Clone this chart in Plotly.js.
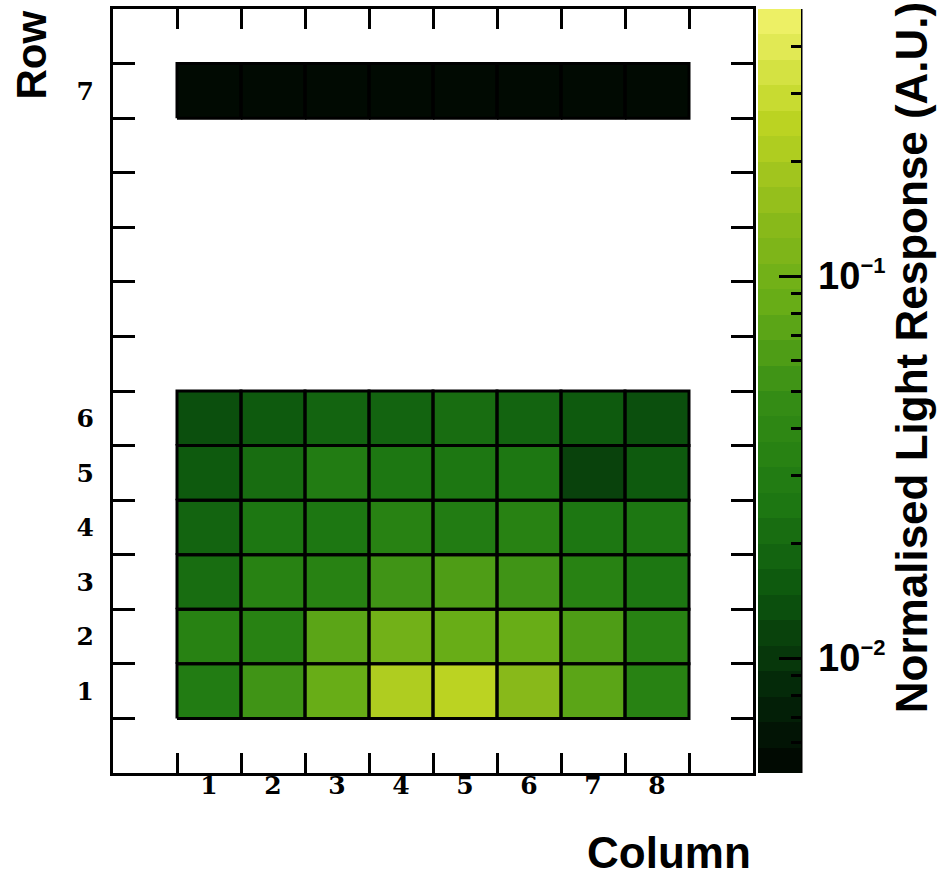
<!DOCTYPE html>
<html><head><meta charset="utf-8">
<script src="https://cdn.plot.ly/plotly-3.0.1.min.js"></script>
<style>html,body{margin:0;padding:0;background:#fff}#chart{width:947px;height:872px}</style>
</head><body><div id="chart"></div>
<script>
// ---- data ----
const columnLabels = ['1','2','3','4','5','6','7','8'];
const columnBins   = [1,2,3,4,5,6,7,8];          // lower edge of each x bin
const rowLabels    = ['1','2','3','4','5','6','7'];
const rowBins      = [1,2,3,4,5,6,12];           // lower edge of each y bin
const row1 = [0.0290, 0.0545, 0.0850, 0.2150, 0.2500, 0.1360, 0.0735, 0.0340];
const row2 = [0.0335, 0.0340, 0.0730, 0.0990, 0.0860, 0.0850, 0.0630, 0.0340];
const row3 = [0.0215, 0.0340, 0.0345, 0.0540, 0.0630, 0.0545, 0.0340, 0.0250];
const row4 = [0.0185, 0.0250, 0.0255, 0.0340, 0.0295, 0.0345, 0.0250, 0.0250];
const row5 = [0.0158, 0.0215, 0.0292, 0.0252, 0.0250, 0.0255, 0.0116, 0.0158];
const row6 = [0.0136, 0.0158, 0.0184, 0.0185, 0.0215, 0.0184, 0.0158, 0.0135];
const row7 = [0.0054, 0.0055, 0.0054, 0.0053, 0.0054, 0.0055, 0.0054, 0.0054];
const zMin = 0.005, zMax = 0.5;
const nContours = 30;
const cbMinorValues = [0.006,0.007,0.008,0.009,0.02,0.03,0.04,0.05,0.06,0.07,0.08,0.09,0.2,0.3,0.4,0.5];
const cbMajorValues = [0.01, 0.1];
const cbMajorLabels = ['10<sup><span style="font-size:22px">\u22122</span></sup>','10<sup><span style="font-size:22px">\u22121</span></sup>'];
const xTitle = 'Column', yTitle = 'Row', zTitle = 'Normalised Light Response (A.U.)';

// ---- palette (ROOT Avocado) ----
const avR=[0,4,12,30,52,101,142,190,237], avG=[0,40,86,121,140,172,187,213,240], avB=[0,9,14,18,21,23,27,35,101];
function pal(t){const s=t*8;const k=Math.min(7,Math.floor(s));const f=s-k;
  return 'rgb('+[avR,avG,avB].map(a=>Math.round(a[k]+(a[k+1]-a[k])*f)).join(',')+')';}
const colorscale=[];
for(let i=0;i<nContours;i++){const idx=Math.min(254,Math.floor((i+0.99)*255/nContours));const c=pal(idx/254);
  colorscale.push([i/nContours,c]);colorscale.push([(i+1)/nContours,c]);}
const clearScale=[[0,'rgba(0,0,0,0)'],[1,'rgba(0,0,0,0)']];

// ---- build heatmap grid ----
const rows=[row1,row2,row3,row4,row5,row6,row7];
const xEdges=columnBins.concat([columnBins[columnBins.length-1]+1]);
const yEdges=[], zRows=[];
rowBins.forEach((b,i)=>{
  if(i===0) yEdges.push(b);
  else if(b!==rowBins[i-1]+1){yEdges.push(b);zRows.push(columnLabels.map(()=>null));}
  zRows.push(rows[i].map(v=>Math.log10(v)));
  yEdges.push(b+1);
});
// cell outlines
const gx=[], gy=[];
rowBins.forEach(rb=>columnBins.forEach(cb=>{
  gx.push(cb,cb+1,cb+1,cb,cb,null); gy.push(rb,rb,rb+1,rb+1,rb,null);
}));
const colCenters=columnBins.map(b=>b+0.5), rowCenters=rowBins.map(b=>b+0.5);
const xRange=[0, columnBins[columnBins.length-1]+2];
const yRange=[0, rowBins[rowBins.length-1]+2];
const xTickEdges=xEdges, yTickEdges=[];
for(let v=yRange[0]+1; v<yRange[1]; v++) yTickEdges.push(v);

const lz0=Math.log10(zMin), lz1=Math.log10(zMax);
const cbCommon={x:1.0078,xanchor:'left',xpad:0,y:0.5,yanchor:'middle',ypad:0,len:1,lenmode:'fraction',
  thickness:43,thicknessmode:'pixels',outlinewidth:0,tickcolor:'black',tickwidth:3};
const base={type:'heatmap',x:xEdges,y:yEdges,z:zRows,zmin:lz0,zmax:lz1,hoverinfo:'skip'};

const traces=[
 Object.assign({},base,{colorscale:colorscale,
  colorbar:Object.assign({},cbCommon,{ticks:'inside',tickmode:'array',tickvals:cbMinorValues.map(Math.log10),ticktext:cbMinorValues.map(()=>' '),ticklen:10,showticklabels:false})}),
 Object.assign({},base,{colorscale:clearScale,
  colorbar:Object.assign({},cbCommon,{ticks:'inside',tickmode:'array',tickvals:cbMajorValues.map(Math.log10),ticktext:cbMajorValues.map(()=>' '),ticklen:22,showticklabels:false})}),
 Object.assign({},base,{colorscale:clearScale,
  colorbar:Object.assign({},cbCommon,{x:1.0219,ticks:'',tickmode:'array',tickvals:cbMajorValues.map(Math.log10),ticktext:cbMajorLabels,
    tickfont:{family:'Liberation Sans, Arial, sans-serif',size:38,color:'black',weight:'bold'}})}),
 {type:'scatter',mode:'lines',x:gx,y:gy,line:{color:'black',width:3},hoverinfo:'skip',showlegend:false,cliponaxis:false}
];

const tickFont={family:'DejaVu Serif, serif',size:25,color:'black',weight:'bold'};
const titleFont={family:'Liberation Sans, Arial, sans-serif',size:44,color:'black',weight:'bold'};
const rowFont=Object.assign({},titleFont,{size:42});
const layout={
  width:947,height:872,margin:{l:113,r:194,t:9,b:99},
  paper_bgcolor:'white',plot_bgcolor:'white',showlegend:false,
  xaxis:{range:xRange,tickmode:'array',tickvals:colCenters,ticktext:columnLabels,ticks:'',ticklen:0,showgrid:false,zeroline:false,
    showline:true,linecolor:'black',linewidth:3,mirror:'ticks',tickfont:tickFont,ticklabelstandoff:-12,
    minor:{tickmode:'array',tickvals:xTickEdges,ticks:'inside',ticklen:20,tickwidth:3,tickcolor:'black',showgrid:false}},
  yaxis:{range:yRange,tickmode:'array',tickvals:rowCenters,ticktext:rowLabels,ticks:'',ticklen:0,showgrid:false,zeroline:false,
    showline:true,linecolor:'black',linewidth:3,mirror:'ticks',tickfont:tickFont,ticklabelstandoff:11,
    minor:{tickmode:'array',tickvals:yTickEdges,ticks:'inside',ticklen:22,tickwidth:3,tickcolor:'black',showgrid:false}},
  shapes:[{type:'line',xref:'paper',yref:'paper',x0:1.0750,x1:1.0750,y0:0,y1:1,line:{color:'black',width:3}}],
  annotations:[
    {text:yTitle,xref:'paper',yref:'paper',x:-0.128,y:1.0,xanchor:'center',yanchor:'top',textangle:-90,showarrow:false,font:rowFont},
    {text:xTitle,xref:'paper',yref:'paper',x:1.0,y:-0.1034,xanchor:'right',yanchor:'middle',height:40,valign:'middle',showarrow:false,font:titleFont},
    {text:zTitle,xref:'paper',yref:'paper',x:1.247,y:1.011,xanchor:'center',yanchor:'top',textangle:-90,showarrow:false,font:titleFont}
  ]
};
Plotly.newPlot('chart',traces,layout,{staticPlot:true,displayModeBar:false});
</script></body></html>
